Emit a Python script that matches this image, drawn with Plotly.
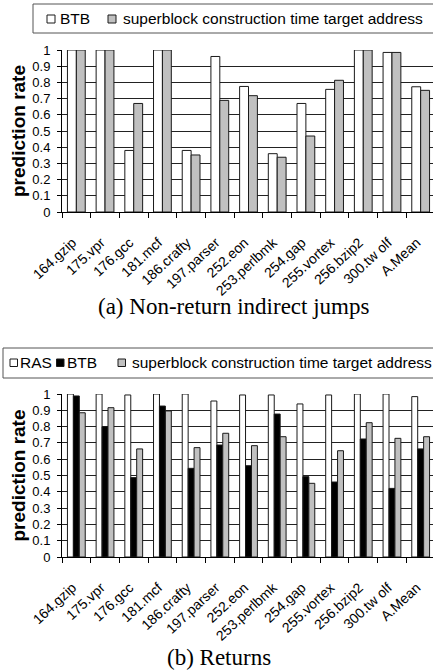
import plotly.graph_objects as go

# ---------------- data ----------------
categories = ["164.gzip", "175.vpr", "176.gcc", "181.mcf", "186.crafty", "197.parser",
              "252.eon", "253.perlbmk", "254.gap", "255.vortex", "256.bzip2",
              "300.tw olf", "A.Mean"]

# (a) Non-return indirect jumps
a_btb = [1.0, 1.0, 0.38, 1.0, 0.38, 0.96, 0.775, 0.36, 0.67, 0.757, 1.0, 0.985, 0.773]
a_sct = [1.0, 1.0, 0.67, 1.0, 0.352, 0.689, 0.718, 0.338, 0.469, 0.813, 1.0, 0.985, 0.751]

# (b) Returns
b_ras = [1.0, 1.0, 0.994, 1.0, 1.0, 0.957, 0.994, 0.994, 0.939, 0.994, 1.0, 1.0, 0.984]
b_btb = [0.988, 0.80, 0.487, 0.926, 0.544, 0.687, 0.56, 0.877, 0.493, 0.46, 0.724, 0.421, 0.663]
b_sct = [0.885, 0.916, 0.663, 0.896, 0.671, 0.759, 0.683, 0.738, 0.452, 0.652, 0.824, 0.728, 0.738]

yticks = [0, 0.1, 0.2, 0.3, 0.4, 0.5, 0.6, 0.7, 0.8, 0.9, 1]
ytick_text = ["0", "0.1", "0.2", "0.3", "0.4", "0.5", "0.6", "0.7", "0.8", "0.9", "1"]

legend_a = ["BTB", "superblock construction time target address"]
legend_b = ["RAS", "BTB", "superblock construction time target address"]
caption_a = "(a) Non-return indirect jumps"
caption_b = "(b) Returns"
ytitle = "prediction rate"

# ---------------- geometry ----------------
W, H = 433, 671
ML, MT, MB = 62, 50, 114
PW = W - ML
PH = H - MT - MB

def px(x):
    return (x - ML) / PW

def py(y):
    return (H - MB - y) / PH

WHITE = "#FFFFFF"
GRAY = "#C0C0C0"
BLACK = "#000000"
LINE = "#1a1a1a"
SANS = "Liberation Sans, Arial, sans-serif"
SERIF = "Liberation Serif, Times New Roman, serif"

fig = go.Figure()

def bar(name, vals, color, xa, ya):
    return go.Bar(x=categories, y=vals, name=name, marker=dict(color=color, line=dict(color=LINE, width=1)),
                  xaxis=xa, yaxis=ya, showlegend=False)

fig.add_trace(bar(legend_a[0], a_btb, WHITE, "x", "y"))
fig.add_trace(bar(legend_a[1], a_sct, GRAY, "x", "y"))
fig.add_trace(bar(legend_b[0], b_ras, WHITE, "x2", "y2"))
fig.add_trace(bar(legend_b[1], b_btb, BLACK, "x2", "y2"))
fig.add_trace(bar(legend_b[2], b_sct, GRAY, "x2", "y2"))

xcommon = dict(type="category", range=[-0.5, 12.43], tickson="boundaries", ticks="outside",
               ticklen=5, tickcolor=BLACK, showline=True, linecolor=BLACK, linewidth=1,
               showgrid=False, tickangle=-43, tickfont=dict(family=SANS, size=14, color=BLACK),
               ticklabelstandoff=16, ticklabelshift=-4,
               fixedrange=True)
ycommon = dict(range=[0, 1], tickvals=yticks, ticktext=ytick_text, ticks="outside", ticklen=4,
               tickcolor=BLACK, showline=True, linecolor=BLACK, linewidth=1,
               showgrid=True, gridcolor="#222222", gridwidth=1, zeroline=False,
               tickfont=dict(family=SANS, size=13, color=BLACK), ticklabelstandoff=4,
               title=dict(text="<b>" + ytitle + "</b>", font=dict(family=SANS, size=19, color=BLACK),
                          standoff=1),
               fixedrange=True)

fig.update_layout(
    width=W, height=H,
    margin=dict(l=ML, r=0, t=MT, b=MB, pad=0),
    paper_bgcolor="white", plot_bgcolor="white",
    barmode="group", bargap=0.38, bargroupgap=0,
    xaxis=dict(xcommon, domain=[0, 1], anchor="y"),
    yaxis=dict(ycommon, domain=[py(212), 1], anchor="x"),
    xaxis2=dict(xcommon, domain=[0, 1], anchor="y2"),
    yaxis2=dict(ycommon, domain=[0, py(394)], anchor="x2"),
)

shapes = []
annotations = []

def legend_box(x0, y0, x1, y1):
    shapes.append(dict(type="rect", xref="paper", yref="paper", x0=px(x0), x1=px(x1), y0=py(y0), y1=py(y1),
                       line=dict(color="#555555", width=1), fillcolor="rgba(0,0,0,0)", layer="above"))

def legend_item(sx, sy, size, color, text, tx):
    shapes.append(dict(type="rect", xref="paper", yref="paper", x0=px(sx), x1=px(sx + size),
                       y0=py(sy), y1=py(sy + size), line=dict(color=LINE, width=1), fillcolor=color,
                       layer="above"))
    annotations.append(dict(xref="paper", yref="paper", x=px(tx), y=py(sy + size / 2), text=text,
                            showarrow=False, xanchor="left", yanchor="middle",
                            font=dict(family=SANS, size=15.5, color=BLACK)))

legend_box(33, 4, 440, 33)
legend_item(47, 15, 8, WHITE, legend_a[0], 58)
legend_item(108, 15, 8, GRAY, legend_a[1], 121)

legend_box(3, 348, 440, 378)
legend_item(10, 359, 7.5, WHITE, legend_b[0], 18)
legend_item(56.5, 359, 7.5, BLACK, legend_b[1], 65)
legend_item(118, 359, 7.5, GRAY, legend_b[2], 130)

annotations.append(dict(xref="paper", yref="paper", x=px(233), y=py(306), text=caption_a, showarrow=False,
                        xanchor="center", yanchor="middle", font=dict(family=SERIF, size=23, color=BLACK)))
annotations.append(dict(xref="paper", yref="paper", x=px(219), y=py(657), text=caption_b, showarrow=False,
                        xanchor="center", yanchor="middle", font=dict(family=SERIF, size=23, color=BLACK)))

fig.update_layout(shapes=shapes, annotations=annotations)

fig.write_html("out.html", config={"displayModeBar": False})
